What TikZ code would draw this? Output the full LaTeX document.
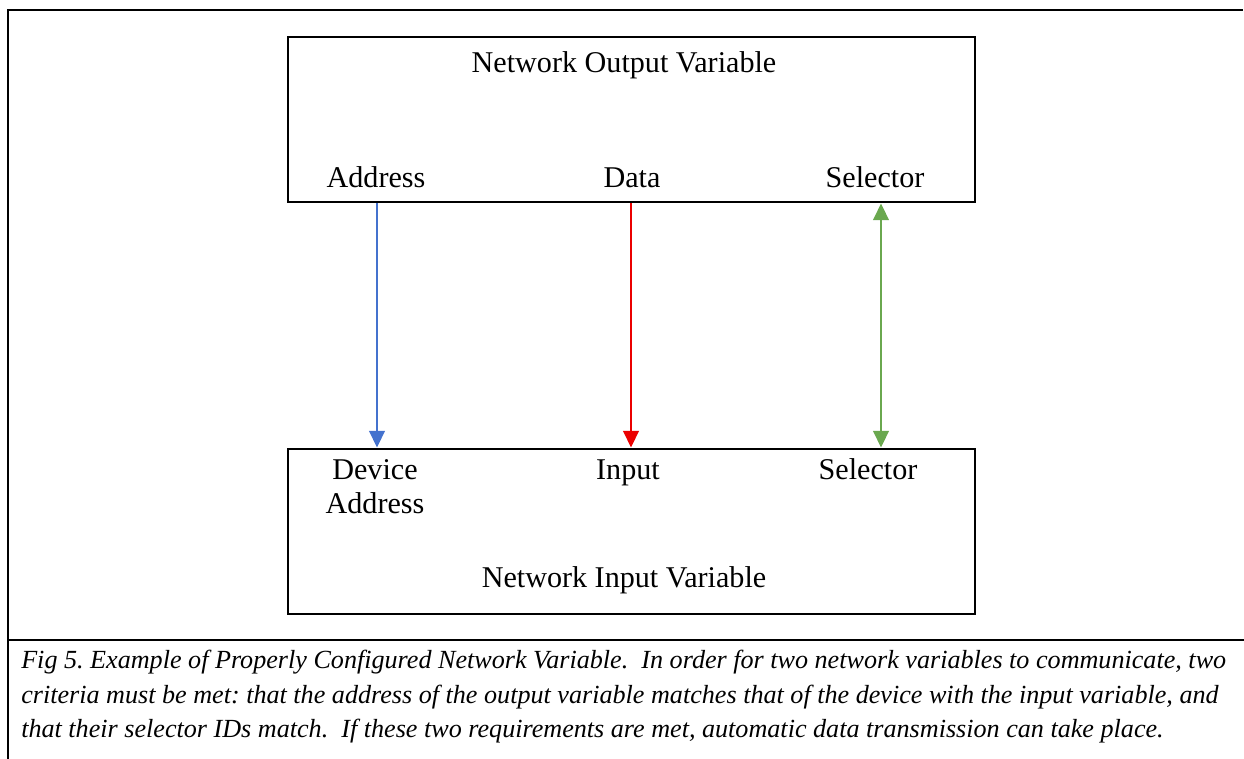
\documentclass[tikz,border=0pt]{standalone}
\usepackage{fontspec}
\setmainfont{Liberation Serif}
\usetikzlibrary{arrows.meta}
\definecolor{cblue}{RGB}{68,114,206}
\definecolor{cred}{RGB}{235,0,0}
\definecolor{cgreen}{RGB}{106,168,79}
\begin{document}
\frenchspacing
\begin{tikzpicture}[x=0.75pt,y=-0.75pt,
  frame/.style={line width=2.2pt,black},
  varbox/.style={draw,line width=2.1pt,minimum width=515.25pt,minimum height=123.75pt,inner sep=0pt},
  lbl/.style={font=\fontsize{22.6}{26}\selectfont,anchor=base,inner sep=0pt},
  captext/.style={font=\fontsize{19.6}{26}\selectfont\itshape,anchor=base west,inner sep=0pt},
  conn/.style={line width=2.1pt,-{Triangle[length=12.5pt,width=11.5pt]}},
  conn2/.style={line width=2.1pt,{Triangle[length=12.5pt,width=11.5pt]}-{Triangle[length=12.5pt,width=11.5pt]}}]
\useasboundingbox (0,0) rectangle (1244,759);
% outer frame
\coordinate (ftl) at (8,10);
\coordinate (ftr) at (1243,10);
\coordinate (fbl) at (8,759);
\coordinate (fml) at (8,640);
\coordinate (fmr) at (1244,640);
\draw[frame] (fbl) -- (ftl) -- (ftr);
\draw[frame] (fml) -- (fmr);
% boxes
\node[varbox] (out) at (631.5,119.5) {};
\node[varbox] (in) at (631.5,531.5) {};
% labels
\node[lbl] (outt) at (624,73) {Network Output Variable};
\node[lbl] (addr) at (376,188) {Address};
\node[lbl] (data) at (632,188) {Data};
\node[lbl] (sel1) at (875,188) {Selector};
\node[lbl] (dev) at (375,479) {Device};
\node[lbl] (dev2) at (375,513) {Address};
\node[lbl] (inp) at (628,479) {Input};
\node[lbl] (sel2) at (868,479) {Selector};
\node[lbl] (int) at (624,587) {Network Input Variable};
% connector columns
\coordinate (ca) at (377,0);
\coordinate (cd) at (631,0);
\coordinate (cs) at (881,0);
\draw[conn,cblue] (out.south -| ca) -- (in.north -| ca);
\draw[conn,cred] (out.south -| cd) -- (in.north -| cd);
\draw[conn2,cgreen] (out.south -| cs) -- (in.north -| cs);
% caption
\node[captext] (c1) at (21,668) {Fig 5. Example of Properly Configured Network Variable.\ \ In order for two network variables to communicate, two};
\node[captext] (c2) at (21,703) {criteria must be met: that the address of the output variable matches that of the device with the input variable, and};
\node[captext] (c3) at (21,737) {that their selector IDs match.\ \ If these two requirements are met, automatic data transmission can take place.};
\end{tikzpicture}
\end{document}
